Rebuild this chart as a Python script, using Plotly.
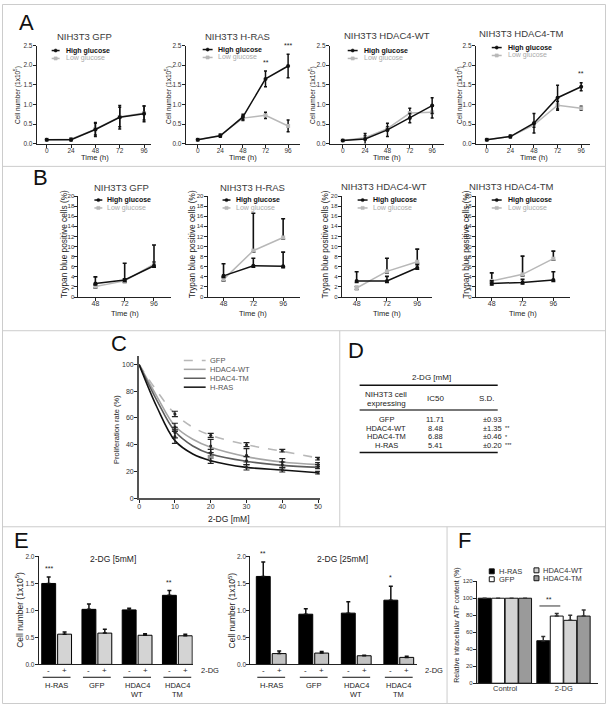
import plotly.graph_objects as go

W, H = 608, 707
FONT = "Arial, 'Liberation Sans', sans-serif"

# ---------------- Panel A data: cell number (1x10^5) ----------------
a_time = [0, 24, 48, 72, 96]
a_titles = ["NIH3T3 GFP", "NIH3T3 H-RAS", "NIH3T3 HDAC4-WT", "NIH3T3 HDAC4-TM"]
a_gfp_high = [0.10, 0.10, 0.36, 0.67, 0.76]
a_gfp_high_err = [0.02, 0.03, 0.18, 0.30, 0.20]
a_gfp_low = [0.10, 0.11, 0.37, 0.68, 0.78]
a_gfp_low_err = [0.02, 0.03, 0.15, 0.25, 0.18]
a_hras_high = [0.10, 0.20, 0.68, 1.65, 1.98]
a_hras_high_err = [0.02, 0.04, 0.07, 0.20, 0.30]
a_hras_low = [0.10, 0.21, 0.65, 0.72, 0.45]
a_hras_low_err = [0.02, 0.03, 0.06, 0.08, 0.15]
a_wt_high = [0.08, 0.12, 0.35, 0.65, 0.97]
a_wt_high_err = [0.02, 0.14, 0.17, 0.12, 0.20]
a_wt_low = [0.08, 0.15, 0.38, 0.78, 0.80]
a_wt_low_err = [0.02, 0.05, 0.05, 0.12, 0.15]
a_tm_high = [0.10, 0.18, 0.52, 1.17, 1.45]
a_tm_high_err = [0.02, 0.03, 0.25, 0.32, 0.10]
a_tm_low = [0.10, 0.18, 0.48, 0.98, 0.90]
a_tm_low_err = [0.02, 0.03, 0.06, 0.10, 0.05]

# ---------------- Panel B data: trypan blue positive cells (%) ----------------
b_time = [48, 72, 96]
b_gfp_high = [2.7, 3.4, 6.2]
b_gfp_high_err = [1.3, 3.3, 4.1]
b_gfp_low = [2.1, 3.2, 6.5]
b_gfp_low_err = [0.4, 0.4, 0.4]
b_hras_high = [4.2, 6.2, 6.1]
b_hras_high_err = [2.4, 1.5, 2.8]
b_hras_low = [3.5, 9.2, 11.8]
b_hras_low_err = [0.5, 7.4, 3.7]
b_wt_high = [3.2, 3.2, 5.8]
b_wt_high_err = [1.8, 0.9, 0.6]
b_wt_low = [1.8, 5.1, 7.0]
b_wt_low_err = [0.3, 2.6, 2.5]
b_tm_high = [2.7, 2.9, 3.4]
b_tm_high_err = [0.5, 0.6, 1.6]
b_tm_low = [3.2, 4.5, 7.6]
b_tm_low_err = [1.6, 3.6, 1.5]

# ---------------- Panel C data: proliferation rate (%) ----------------
c_dose = [10, 20, 30, 40, 50]
c_gfp = [63, 47, 40, 35.5, 29.5]
c_gfp_err = [2, 1.5, 1.5, 1, 1]
c_wt = [53, 39, 32, 27, 25]
c_wt_err = [3, 5, 5, 2.5, 1.5]
c_tm = [49, 34, 28, 25, 23.5]
c_tm_err = [4, 2.5, 3, 2, 1.5]
c_hras = [46, 28, 23, 21, 19]
c_hras_err = [5, 2, 2, 1.5, 1]
# fitted curves
c_fit_x = [0, 5, 10, 15, 20, 30, 40, 50]
c_fit_gfp = [100, 80, 63, 53, 47, 40, 35, 30]
c_fit_wt = [100, 76, 54, 44, 38, 31, 27, 25]
c_fit_tm = [100, 73, 50, 39, 33, 27.5, 24.5, 23]
c_fit_hras = [100, 68, 43, 33, 28, 23, 21, 19]

# ---------------- Panel D table ----------------
d_lines = ["GFP", "HDAC4-WT", "HDAC4-TM", "H-RAS"]
d_ic50 = ["11.71", "8.48", "6.88", "5.41"]
d_sd = ["±0.93", "±1.35", "±0.46", "±0.20"]
d_sig = ["", "**", "*", "***"]

# ---------------- Panel E data: cell number ----------------
e_groups = ["H-RAS", "GFP", "HDAC4<br>WT", "HDAC4<br>TM"]
e5_minus = [1.50, 1.02, 1.01, 1.28]
e5_minus_err = [0.12, 0.10, 0.03, 0.09]
e5_plus = [0.56, 0.58, 0.54, 0.53]
e5_plus_err = [0.04, 0.07, 0.03, 0.03]
e5_sig = ["***", "", "", "**"]
e25_minus = [1.63, 0.93, 0.95, 1.19]
e25_minus_err = [0.27, 0.10, 0.21, 0.26]
e25_plus = [0.20, 0.21, 0.16, 0.13]
e25_plus_err = [0.05, 0.03, 0.01, 0.02]
e25_sig = ["**", "", "", "*"]

# ---------------- Panel F data: ATP content (%) ----------------
f_groups = ["Control", "2-DG"]
f_hras = [100, 50]
f_hras_err = [0, 5]
f_gfp = [100, 79]
f_gfp_err = [0, 3]
f_wt = [100, 74]
f_wt_err = [0, 6]
f_tm = [100, 79]
f_tm_err = [0, 7]

# ====================================================================
fig = go.Figure()
layout = {}
annotations = []
shapes = []
count = [0]


def px_x(x):
    return x / W


def px_y(y):
    return 1 - y / H


def add_axes(x0, x1, ytop, ybot, xr, yr, xkw=None, ykw=None):
    count[0] += 1
    n = count[0]
    s = "" if n == 1 else str(n)
    base = dict(showgrid=False, zeroline=False, showline=True, linecolor="#222",
                linewidth=1, ticks="outside", ticklen=3, tickwidth=1, tickcolor="#222",
                tickfont=dict(size=6.5, color="#333", family=FONT), fixedrange=True)
    xa = dict(base, domain=[px_x(x0), px_x(x1)], anchor="y" + s, range=xr, ticklabelstandoff=-2)
    ya = dict(base, domain=[px_y(ybot), px_y(ytop)], anchor="x" + s, range=yr, ticklabelstandoff=-1)
    if xkw:
        xa.update(xkw)
    if ykw:
        ya.update(ykw)
    layout["xaxis" + s] = xa
    layout["yaxis" + s] = ya
    return "x" + s, "y" + s


def txt(x, y, s, size=7, color="#222", xa="center", ya="middle", angle=0,
        xref="paper", yref="paper"):
    annotations.append(dict(
        x=px_x(x) if xref == "paper" else x,
        y=px_y(y) if yref == "paper" else y,
        xref=xref, yref=yref, text=s, showarrow=False,
        font=dict(size=size, color=color, family=FONT),
        xanchor=xa, yanchor=ya, textangle=angle))


def line(x0, y0, x1, y1, color="#222", width=1, dash="solid", xref="paper", yref="paper"):
    shapes.append(dict(type="line",
                       x0=px_x(x0) if xref == "paper" else x0,
                       x1=px_x(x1) if xref == "paper" else x1,
                       y0=px_y(y0) if yref == "paper" else y0,
                       y1=px_y(y1) if yref == "paper" else y1,
                       xref=xref, yref=yref,
                       line=dict(color=color, width=width, dash=dash)))


def rect(x0, y0, x1, y1, fill, lc="#222", lw=0.8, kind="rect"):
    shapes.append(dict(type=kind, x0=px_x(x0), x1=px_x(x1), y0=px_y(y1), y1=px_y(y0),
                       xref="paper", yref="paper", fillcolor=fill,
                       line=dict(color=lc, width=lw)))


HIGH_C = "#111111"
LOW_C = "#b8b8b8"

# ---------------- separators ----------------
SEP = "#cccccc"
rect(0.5, 0.5, 607.5, 706.5, "rgba(0,0,0,0)", SEP, 1)
line(0, 164, 608, 164, SEP)
line(0, 330, 608, 330, SEP)
line(340, 330, 340, 528, SEP)
line(0, 528, 608, 528, SEP)
line(448, 528, 448, 707, SEP)

# panel letters
for letter, (lx, ly) in zip("ABCDEF", [(25, 19), (39, 175), (118, 343), (356, 350), (20, 542), (466, 542)]):
    txt(lx, ly, letter, size=22, color="#111")

# ---------------- Panel A ----------------
a_high_all = [(a_gfp_high, a_gfp_high_err), (a_hras_high, a_hras_high_err),
              (a_wt_high, a_wt_high_err), (a_tm_high, a_tm_high_err)]
a_low_all = [(a_gfp_low, a_gfp_low_err), (a_hras_low, a_hras_low_err),
             (a_wt_low, a_wt_low_err), (a_tm_low, a_tm_low_err)]
a_geom = [(35, 45, 143, 150), (185, 197, 288, 300), (330, 343, 433, 445), (477, 488, 583, 592)]
a_title_pos = [(83, 33), (237, 33), (388, 32), (523, 30)]
a_ytitle_x = [15, 167, 312, 460]
a_leg = [(50, 58, 62, 47), (202, 212, 215, 46), (348, 358, 362, 47), (493, 503, 507, 44)]
a_stars = [[], [(72, 1.93, "**"), (96, 2.36, "***")], [], [(96, 1.65, "**")]]
for i in range(4):
    xl, t0, t96, xr = a_geom[i]
    sc = (t96 - t0) / 96
    xa, ya = add_axes(xl, xr, 42, 141, [(xl - t0) / sc, (xr - t0) / sc], [0, 2.5],
                      xkw=dict(tickvals=a_time),
                      ykw=dict(tickvals=[0, 0.5, 1, 1.5, 2, 2.5], tickformat=".1f"))
    for (vals, err), col, sym in [(a_low_all[i], LOW_C, "square"), (a_high_all[i], HIGH_C, "circle")]:
        fig.add_trace(go.Scatter(x=a_time, y=vals, xaxis=xa, yaxis=ya, mode="lines+markers",
                                 line=dict(color=col, width=1.5),
                                 marker=dict(color=col, size=4, symbol=sym),
                                 error_y=dict(type="data", array=err, color="#111",
                                              thickness=1.5, width=1.5),
                                 showlegend=False, cliponaxis=False))
    tx, ty = a_title_pos[i]
    txt(tx, ty, a_titles[i], size=9.5, color="#3a3a3a")
    txt(a_ytitle_x[i], 92, "Cell number (1x10<sup>5</sup>)", size=6.5, angle=-90)
    txt((t0 + t96) / 2, 155, "Time (h)", size=7.5)
    lx0, lx1, ltx, ly = a_leg[i]
    for k, (col, lab, kind) in enumerate([(HIGH_C, "<b>High glucose</b>", "circle"),
                                         (LOW_C, "Low glucose", "rect")]):
        yy = ly + 8 * k
        line(lx0, yy, lx1, yy, col, 1.5)
        cx = (lx0 + lx1) / 2
        rect(cx - 1.6, yy - 1.6, cx + 1.6, yy + 1.6, col, col, 0.5, kind)
        txt(ltx, yy, lab, size=7, color=("#111" if k == 0 else "#aaa"), xa="left")
    for (sx, sy, st) in a_stars[i]:
        txt(sx, sy, st, size=7, xref=xa, yref=ya, ya="bottom")

# ---------------- Panel B ----------------
b_high_all = [(b_gfp_high, b_gfp_high_err), (b_hras_high, b_hras_high_err),
              (b_wt_high, b_wt_high_err), (b_tm_high, b_tm_high_err)]
b_low_all = [(b_gfp_low, b_gfp_low_err), (b_hras_low, b_hras_low_err),
             (b_wt_low, b_wt_low_err), (b_tm_low, b_tm_low_err)]
b_geom = [(77, 94, 153, 170), (207, 223, 283, 300), (342, 357, 418, 433), (477, 493, 555, 572)]
b_title_pos = [(120, 185), (252, 185), (385, 184), (513, 184)]
b_ytitle_x = [62, 191, 325, 467]
b_leg = [(93, 101, 104, 198), (222, 230, 234, 198), (358, 368, 371, 198), (493, 503, 507, 198)]
for i in range(4):
    xl, t48, t96, xr = b_geom[i]
    sc = (t96 - t48) / 48
    xa, ya = add_axes(xl, xr, 194, 296,
                      [48 + (xl - t48) / sc, 48 + (xr - t48) / sc], [0, 20],
                      xkw=dict(tickvals=b_time, ticklabelstandoff=-3,
                               tickfont=dict(size=7, color="#333", family=FONT)),
                      ykw=dict(tickvals=list(range(0, 21, 2)), tickfont=dict(size=6, color="#333", family=FONT)))
    for (vals, err), col, sym in [(b_low_all[i], LOW_C, "square"), (b_high_all[i], HIGH_C, "circle")]:
        fig.add_trace(go.Scatter(x=b_time, y=vals, xaxis=xa, yaxis=ya, mode="lines+markers",
                                 line=dict(color=col, width=1.5),
                                 marker=dict(color=col, size=4, symbol=sym),
                                 error_y=dict(type="data", array=err, arrayminus=[0.3] * 3,
                                              symmetric=False, color="#111",
                                              thickness=1.6, width=2),
                                 showlegend=False, cliponaxis=False))
    tx, ty = b_title_pos[i]
    txt(tx, ty, a_titles[i], size=9.5, color="#3a3a3a")
    txt(b_ytitle_x[i], 243, "Trypan blue positive cells (%)", size=8.3, angle=-90)
    txt((t48 + t96) / 2, 313, "Time (h)", size=7.5)
    lx0, lx1, ltx, ly = b_leg[i]
    for k, (col, lab, kind) in enumerate([(HIGH_C, "<b>High glucose</b>", "circle"),
                                         (LOW_C, "Low glucose", "rect")]):
        yy = ly + 8 * k
        line(lx0, yy, lx1, yy, col, 1.5)
        cx = (lx0 + lx1) / 2
        rect(cx - 1.6, yy - 1.6, cx + 1.6, yy + 1.6, col, col, 0.5, kind)
        txt(ltx, yy, lab, size=7, color=("#111" if k == 0 else "#aaa"), xa="left")

# ---------------- Panel C ----------------
xa, ya = add_axes(138, 320, 356, 499, [0, 50.5], [0, 106],
                  xkw=dict(tickvals=[0, 10, 20, 30, 40, 50], linewidth=2, linecolor="#555",
                           tickfont=dict(size=7, color="#333", family=FONT)),
                  ykw=dict(tickvals=[0, 20, 40, 60, 80, 100], linewidth=2, linecolor="#555",
                           tickfont=dict(size=7, color="#333", family=FONT)))
c_series = [("GFP", c_fit_gfp, c_gfp, c_gfp_err, "#b8b8b8", "dash"),
            ("HDAC4-WT", c_fit_wt, c_wt, c_wt_err, "#a6a6a6", "solid"),
            ("HDAC4-TM", c_fit_tm, c_tm, c_tm_err, "#5e5e5e", "solid"),
            ("H-RAS", c_fit_hras, c_hras, c_hras_err, "#111111", "solid")]
for name, fit, pts, err, col, dash in c_series:
    fig.add_trace(go.Scatter(x=c_fit_x, y=fit, xaxis=xa, yaxis=ya, mode="lines",
                             line=dict(color=col, width=1.6, dash=dash, shape="spline", smoothing=1.0),
                             showlegend=False, cliponaxis=False))
    fig.add_trace(go.Scatter(x=c_dose, y=pts, xaxis=xa, yaxis=ya, mode="markers",
                             marker=dict(color="#222", size=3),
                             error_y=dict(type="data", array=err, color="#222", thickness=1.2, width=3),
                             showlegend=False, cliponaxis=False))
txt(115, 430, "Proliferation rate (%)", size=7.5, angle=-90)
txt(228, 520, "2-DG [mM]", size=8.5)
for k, (name, fit, pts, err, col, dash) in enumerate(c_series):
    yy = 360 + 9 * k
    line(183, yy, 205, yy, col, 1.5, "dash" if dash == "dash" else "solid")
    txt(207, yy, name, size=7.5, color="#555", xa="left")

# ---------------- Panel D ----------------
txt(432, 377, "2-DG [mM]", size=8)
line(360, 385, 499, 385, "#111", 1.5)
txt(387, 394, "NIH3T3 cell", size=8)
txt(387, 403, "expressing", size=8)
txt(436, 398, "IC50", size=8)
txt(488, 398, "S.D.", size=8)
line(360, 410, 499, 410, "#777", 2)
for k in range(4):
    yy = 420 + 8.6 * k
    txt(387, yy, d_lines[k], size=7.5)
    txt(436, yy, d_ic50[k], size=7.5)
    txt(482, yy, d_sd[k], size=7.5, xa="left")
    if d_sig[k]:
        txt(504, yy, d_sig[k], size=5.5, xa="left")
line(360, 453, 499, 453, "#111", 1.5)


# ---------------- Panel E ----------------
def e_panel(x0, x1, c0, spacing, minus, minus_err, plus, plus_err, sig, title, title_x, ytitle_x, plus_col):
    left = (x0 - c0) / spacing
    right = (x1 - c0) / spacing
    xa, ya = add_axes(x0, x1, 558, 667, [left, right], [0, 2.0],
                      xkw=dict(type="category", showticklabels=False, ticks=""),
                      ykw=dict(tickvals=[0, 0.5, 1.0, 1.5, 2.0], tickformat=".1f"))
    half = 8 / spacing
    bw = 14 / spacing
    fig.add_trace(go.Bar(x=e_groups, y=minus, xaxis=xa, yaxis=ya, width=bw, offset=-half - bw / 2,
                         marker=dict(color="#000", line=dict(color="#000", width=1)),
                         error_y=dict(type="data", array=minus_err, arrayminus=[0] * 4, symmetric=False,
                                      color="#111", thickness=1.5, width=2),
                         showlegend=False, cliponaxis=False))
    fig.add_trace(go.Bar(x=e_groups, y=plus, xaxis=xa, yaxis=ya, width=bw, offset=half - bw / 2,
                         marker=dict(color=plus_col, line=dict(color="#000", width=1)),
                         error_y=dict(type="data", array=plus_err, arrayminus=[0] * 4, symmetric=False,
                                      color="#111", thickness=1.5, width=2),
                         showlegend=False, cliponaxis=False))
    for g in range(4):
        txt(g - half, 673, "-", size=8, xref=xa)
        txt(g + half, 673, "+", size=8, xref=xa)
        line(g - half - 6 / spacing, 680, g + half + 6 / spacing, 680, "#111", 1, xref=xa)
        lab = e_groups[g].split("<br>")
        for j, part in enumerate(lab):
            txt(g, 688 + 9 * j, part, size=7.5, xref=xa)
        if sig[g]:
            txt(g - half, minus[g] + minus_err[g] + 0.05, sig[g], size=7, xref=xa, yref=ya, ya="bottom")
    txt(x1 + 6, 673, "2-DG", size=7.5, xa="left")
    txt(title_x, 561, title, size=8.5)
    txt(ytitle_x, 612, "Cell number (1x10<sup>5</sup>)", size=8.5, angle=-90)


e_panel(37, 192, 55, 40.5, e5_minus, e5_minus_err, e5_plus, e5_plus_err, e5_sig,
        "2-DG [5mM]", 112, 18, "#d4d4d4")
e_panel(250, 418, 271, 42.8, e25_minus, e25_minus_err, e25_plus, e25_plus_err, e25_sig,
        "2-DG [25mM]", 343, 232, "#c2c2c2")

# ---------------- Panel F ----------------
fc0, fsp = 506.5, 59
xa, ya = add_axes(478, 600, 583, 686, [(478 - fc0) / fsp, (600 - fc0) / fsp], [0, 120],
                  xkw=dict(type="category", ticks="", tickfont=dict(size=7.5, color="#333", family=FONT)),
                  ykw=dict(tickvals=[0, 20, 40, 60, 80, 100, 120], tickfont=dict(size=6, color="#333", family=FONT)))
f_series = [("H-RAS", f_hras, f_hras_err, "#000000"), ("GFP", f_gfp, f_gfp_err, "#ffffff"),
            ("HDAC4-WT", f_wt, f_wt_err, "#d4d4d4"), ("HDAC4-TM", f_tm, f_tm_err, "#9a9a9a")]
fw = 0.22
for k, (name, vals, err, col) in enumerate(f_series):
    fig.add_trace(go.Bar(x=f_groups, y=vals, xaxis=xa, yaxis=ya, width=fw, offset=-0.46 + 0.23 * k,
                         marker=dict(color=col, line=dict(color="#111", width=1)),
                         error_y=dict(type="data", array=err, arrayminus=[0, 0], symmetric=False,
                                      color="#333", thickness=1.5, width=2),
                         showlegend=False, cliponaxis=False))
txt(458, 627, "Relative intracellular ATP content (%)", size=7, angle=-90)
f_leg = [(493, 573), (493, 581), (538, 572), (538, 580)]
for (name, vals, err, col), (lx, ly) in zip(f_series, f_leg):
    rect(lx - 2.5, ly - 2.5, lx + 2.5, ly + 2.5, col, "#111", 1)
    txt(lx + 5, ly, name, size=7.5, color="#333", xa="left")
line(541, 608, 562, 608, "#333", 1)
txt(551, 607, "**", size=7, ya="bottom")

layout.update(dict(width=W, height=H, autosize=False, margin=dict(l=0, r=0, t=0, b=0),
                   paper_bgcolor="white", plot_bgcolor="rgba(0,0,0,0)",
                   barmode="overlay", font=dict(family=FONT, color="#222"),
                   annotations=annotations, shapes=shapes, showlegend=False))
fig.update_layout(**layout)
fig.write_html("out.html", config={"displayModeBar": False},
               post_script="document.body.style.margin='0px';document.body.style.overflow='hidden';")
